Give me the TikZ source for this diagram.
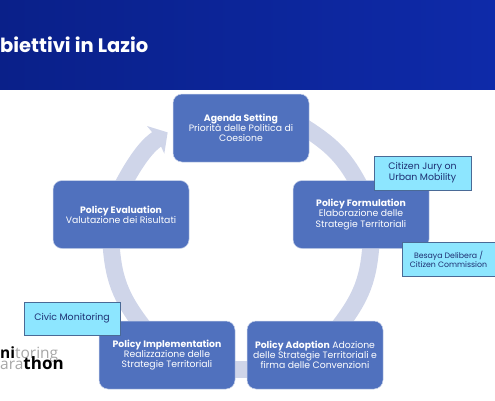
\documentclass[tikz,border=0pt]{standalone}
\usepackage{fontspec}
\setmainfont{Poppins}
\newfontfamily\logofont{Open Sans}
\usepackage{xcolor}
\usetikzlibrary{positioning,arrows.meta,calc,backgrounds}
\definecolor{headleft}{HTML}{0A2089}
\definecolor{headright}{HTML}{0E2AA9}
\definecolor{stagefill}{HTML}{5071BE}
\definecolor{stageedge}{HTML}{C9D3EA}
\definecolor{ringfill}{HTML}{CFD5E9}
\definecolor{toolfill}{HTML}{8DE6FF}
\definecolor{tooledge}{HTML}{4A6A96}
\definecolor{tooltext}{HTML}{1E2F72}
\begin{document}
\begin{tikzpicture}[
  x=1pt, y=1pt,
  stage/.style={draw=stageedge, line width=0.5pt, rounded corners=9pt, fill=stagefill,
                minimum width=136pt, minimum height=68pt, inner sep=0pt,
                align=center, text=white, font=\fontsize{9.3}{10.2}\selectfont},
  tool/.style={draw=tooledge, line width=0.8pt, fill=toolfill, inner sep=0pt,
               align=center, text=tooltext, font=\fontsize{9.4}{10.8}\selectfont},
  ring/.style={draw=ringfill, line width=17pt, shorten <=-12pt, shorten >=-12pt},
  logo/.style={anchor=base west, inner sep=0pt, font=\logofont\fontsize{15.5}{16}\selectfont},
]
\useasboundingbox (0,0) rectangle (495,400);

%% Header
\shade[left color=headleft, right color=headright] (0,311) rectangle (495,400);
\node[anchor=base west, inner sep=0pt, text=white, font=\fontsize{19.5}{22}\selectfont\bfseries]
  (title) at (0,348) {biettivi in Lazio};

%% Stages
\node[stage] (agenda) at (241,272)
  {\textbf{Agenda Setting}\\Priorità delle Politica di\\Coesione};
\node[stage] (formulation) at (361,185.5)
  {\textbf{Policy Formulation}\\Elaborazione delle\\Strategie Territoriali};
\node[stage] (adoption) at (315,45)
  {\textbf{Policy Adoption} Adozione\\delle Strategie Territoriali e\\firma delle Convenzioni};
\node[stage] (implementation) at (167,45)
  {\textbf{Policy Implementation}\\Realizzazione delle\\Strategie Territoriali};
\node[stage] (evaluation) at (121,185.5)
  {\textbf{Policy Evaluation}\\Valutazione dei Risultati};

%% Cycle
\begin{scope}[on background layer]
\draw[ring] (agenda.-2) to[out=-32, in=117] (formulation.97);
\draw[ring] (formulation.-74) to[out=-93, in=52] (adoption.50);
\draw[ring] (adoption.192) -- (implementation.-12);
\draw[ring] (implementation.130) to[out=128, in=-87] (evaluation.-106);
\draw[ring, shorten >=6pt, -{Stealth[length=14pt,width=32pt,inset=2pt]}]
  (evaluation.83) to[out=63, in=212] (agenda.181);
\end{scope}

%% Logo
\node[logo, text=gray!70] (logotop) at (0,42) {\textbf{\textcolor{black}{ni}}toring};
\node[logo, text=gray!70] (logobottom) at (0,31) {ara\fontsize{17}{17}\selectfont\textbf{\textcolor{black}{thon}}};

%% Tools
\node[tool, minimum width=97pt, minimum height=34pt] (jury) at (422.5,227)
  {Citizen Jury on\\Urban Mobility};
\node[tool, minimum width=93pt, minimum height=34pt, font=\fontsize{7.8}{9}\selectfont] (besaya) at (448.5,141)
  {Besaya Delibera /\\Citizen Commission};
\node[tool, minimum width=96pt, minimum height=33pt] (civic) at (72,81.5)
  {Civic Monitoring};
\end{tikzpicture}
\end{document}
